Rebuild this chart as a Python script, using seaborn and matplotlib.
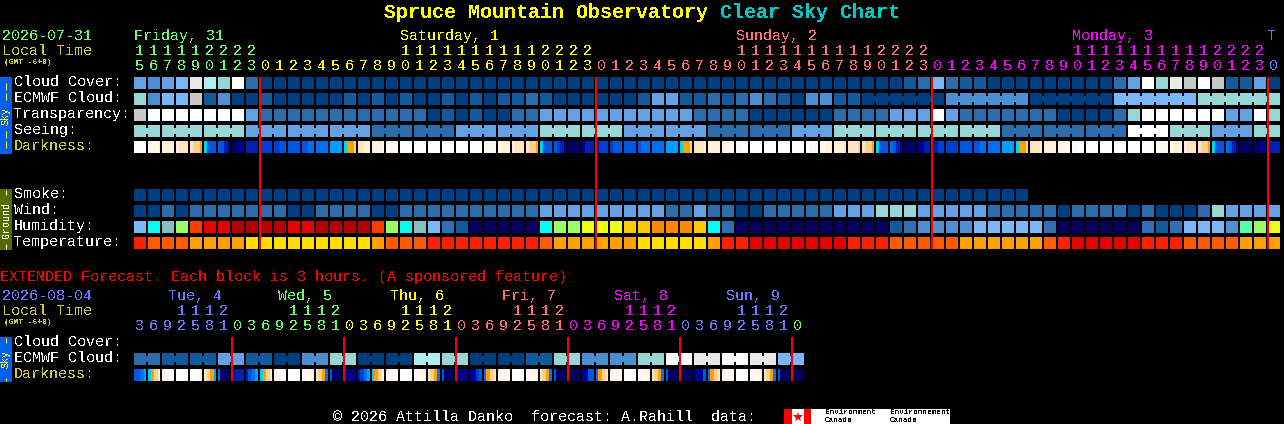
import matplotlib
matplotlib.use("Agg")
import matplotlib.pyplot as plt
import numpy as np
import seaborn as sns
from matplotlib.colors import ListedColormap
from matplotlib.patches import Rectangle

WIDTH, HEIGHT = 1284, 424
DPI = 100
PX = 72 / DPI
RULE = 1.99 * PX  # just under 2px so the lines snap to whole pixels
FONT = "Liberation Mono"

# palettes, darkest sky to brightest sky
SKY_COLORS = ["#003f7f", "#135a9c", "#2c6cab", "#4c8ed0", "#63a1e3", "#79b6f7",
              "#96d6d4", "#adeeee", "#c8c8c8", "#e8e8e8", "#ffffff"]
HUMIDITY_COLORS = ["#08005f", "#0f5ba0", "#2f6fb5", "#4f8fd0", "#7ab8f8", "#87bfc0", "#00fff0",
                   "#55ffaa", "#99ff66", "#ebff14", "#ffc800", "#ff8800", "#ff3c00", "#e60000", "#b40000"]
TEMPERATURE_COLORS = ["#e60000", "#ff2000", "#ff5a00", "#ff9f00", "#ffdd00"]
DARKNESS_COLORS = ["#ffffff", "#fff8f0", "#fff0dc", "#ffe4c0", "#ffd090", "#ffa000", "#00d0f0",
                   "#00a0ff", "#0070f0", "#0058e0", "#0040d0", "#0020b0", "#000090", "#000060"]

CLOUD_COVER = [4, 3, 4, 5, 9, 7, 6, 10, 2, 0, 0, 0, 0, 0, 0, 0, 0, 0, 0, 0, 0,
               0, 0, 0, 0, 0, 0, 0, 0, 0, 0, 0, 0, 0, 0, 0, 0, 0, 0, 0, 0,
               0, 0, 0, 0, 0, 0, 0, 0, 0, 0, 0, 0, 0, 0, 1, 2, 5, 2, 1, 1,
               0, 0, 0, 0, 0, 0, 0, 0, 0, 2, 4, 10, 6, 9, 8, 10, 8, 1, 1, 4, 0]
ECMWF_CLOUD = [6, 3, 5, 5, 8, 1, 3, 0, 0, 1, 0, 0, 0, 0, 0, 1, 0, 1, 0, 1, 0,
               0, 1, 0, 1, 0, 1, 1, 2, 1, 0, 0, 0, 0, 0, 0, 1, 4, 4, 1, 1,
               2, 1, 2, 3, 2, 1, 0, 3, 3, 1, 1, 0, 0, 0, 0, 0, 0, 3, 3, 3,
               3, 3, 3, 0, 0, 0, 0, 0, 0, 5, 5, 5, 5, 5, 5, 6, 6, 6, 6, 6, 6]
ECMWF_SPANS = [1] * 52 + [6] * 5
TRANSPARENCY = [8, 10, 10, 10, 10, 10, 10, 10, 4, 2, 2, 2, 2, 2, 2, 2, 2, 2, 2, 2, 2,
                0, 1, 0, 1, 0, 0, 2, 2, 4, 4, 4, 4, 4, 4, 4, 4, 4, 4, 4, 2,
                2, 2, 2, 0, 0, 0, 0, 0, 0, 2, 2, 2, 2, 4, 4, 4, 10, 4, 2, 2,
                2, 2, 2, 2, 2, 0, 0, 0, 0, 2, 6, 10, 10, 10, 10, 10, 10, 4, 4, 10, 6]
SEEING = [6, 6, 6, 6, 6, 6, 6, 6, 4, 4, 4, 4, 4, 4, 4, 4, 4, 2, 2, 2, 2,
          2, 2, 4, 4, 4, 4, 4, 4, 6, 6, 6, 6, 6, 6, 4, 4, 4, 4, 4, 4,
          2, 2, 2, 2, 2, 2, 4, 4, 4, 6, 6, 6, 6, 6, 6, 6, 6, 6, 6, 6,
          6, 2, 2, 2, 2, 2, 2, 2, 2, 2, 10, 10, 10, 6, 6, 6, 4, 4, 4, 6, 6]
SEEING_SPANS = [2] + [3] * 26 + [2]
DARKNESS = [
    (0, 0, 0, 0), (1, 1, 1, 2), (2, 2, 2, 2), (2, 3, 3, 3), (3, 4, 4, 5), (6, 9, 9, 9),
    (9, 9, 11, 12), (13, 13, 12, 12), (11, 11, 11, 11), (10, 10, 10, 10), (10, 10, 9, 9),
    (9, 9, 9, 9), (9, 9, 8, 8), (8, 8, 8, 8), (7, 7, 7, 7), (6, 5, 5, 4), (3, 3, 2, 2),
    (2, 2, 2, 1), (1, 1, 1, 1), (0, 0, 0, 0), (0, 0, 0, 0), (0, 0, 0, 0), (0, 0, 0, 0),
    (0, 0, 0, 0), (0, 0, 0, 0), (1, 1, 1, 1), (1, 2, 2, 2), (2, 3, 3, 3), (3, 4, 4, 5),
    (6, 9, 9, 9), (9, 10, 11, 12), (13, 13, 13, 13), (12, 11, 11, 11), (11, 10, 10, 10),
    (10, 9, 9, 9), (9, 9, 9, 9), (9, 8, 8, 8), (8, 8, 8, 8), (7, 7, 7, 7), (6, 5, 5, 4),
    (3, 3, 3, 2), (2, 2, 2, 2), (2, 1, 1, 1), (1, 1, 0, 0), (0, 0, 0, 0), (0, 0, 0, 0),
    (0, 0, 0, 0), (0, 0, 0, 0), (0, 1, 1, 1), (1, 1, 2, 2), (2, 2, 2, 3), (3, 3, 3, 4),
    (3, 4, 4, 5), (6, 9, 9, 9), (8, 9, 11, 12), (13, 13, 13, 13), (12, 12, 11, 11),
    (11, 11, 10, 10), (10, 10, 10, 10), (9, 9, 9, 9), (9, 9, 8, 8), (8, 8, 8, 8),
    (7, 7, 7, 7), (6, 5, 5, 4), (3, 3, 3, 2), (2, 2, 2, 2), (2, 1, 1, 1), (1, 1, 0, 0),
    (0, 0, 0, 0), (0, 0, 0, 0), (0, 0, 0, 0), (0, 0, 0, 0), (0, 0, 0, 0), (0, 1, 1, 1),
    (1, 2, 2, 2), (2, 3, 3, 3), (3, 4, 4, 5), (6, 9, 9, 9), (8, 9, 11, 12),
    (13, 13, 13, 13), (13, 13, 12, 12), (11, 11, 11, 11),
]
SMOKE = [0] * 64 + [np.nan] * 18
WIND = [0, 0, 2, 0, 2, 2, 2, 2, 2, 2, 2, 0, 0, 2, 2, 2, 2, 0, 0, 2, 2,
        2, 2, 2, 2, 2, 2, 2, 2, 4, 4, 4, 4, 4, 4, 4, 4, 4, 2, 2, 4,
        2, 2, 0, 0, 2, 2, 2, 2, 2, 4, 4, 4, 6, 6, 6, 4, 4, 4, 4, 4,
        2, 2, 2, 2, 2, 0, 2, 2, 2, 2, 0, 2, 0, 0, 0, 2, 6, 4, 4, 4, 4]
HUMIDITY = [4, 6, 5, 8, 12, 13, 13, 14, 14, 14, 14, 13, 13, 14, 14, 14, 14, 12, 8, 6, 5,
            4, 2, 1, 0, 0, 0, 0, 0, 6, 8, 8, 9, 9, 9, 10, 10, 11, 11, 11, 10,
            6, 2, 0, 0, 0, 0, 0, 0, 0, 0, 0, 0, 0, 1, 2, 3, 3, 3, 3, 4,
            4, 4, 4, 4, 2, 0, 0, 0, 0, 0, 0, 2, 1, 2, 4, 4, 4, 3, 7, 8, 9]
TEMPERATURE = [1, 2, 2, 2, 3, 3, 3, 3, 4, 4, 4, 4, 4, 4, 4, 4, 4, 3, 2, 2, 2,
               1, 1, 1, 1, 1, 1, 1, 1, 2, 3, 3, 3, 3, 3, 3, 4, 4, 4, 4, 4,
               3, 1, 1, 0, 0, 0, 0, 0, 0, 0, 1, 1, 1, 2, 2, 2, 2, 2, 3, 3,
               3, 3, 3, 3, 2, 1, 0, 0, 0, 0, 0, 1, 1, 1, 2, 2, 2, 2, 3, 3, 3]

EXT_ECMWF = [2, 2, 1, 1, 1, 1, 4, 4, 1, 1, 0, 0, 3, 3, 6, 6, 0, 0, 0, 0, 7, 7, 6, 6,
             0, 0, 0, 0, 1, 1, 6, 6, 3, 3, 3, 3, 6, 6, 10, 10, 9, 9, 10, 10, 9, 9, 5, 5]
EXT_ECMWF_SPANS = [2] * 24
EXT_DARKNESS = [
    (9, 9, 8, 7), (6, 5, 4, 2), (2, 1, 0, 0), (0, 0, 0, 0), (0, 0, 1, 2), (3, 4, 5, 7),
    (8, 13, 13, 13), (12, 11, 11, 11), (11, 9, 8, 7), (6, 5, 4, 2), (2, 1, 0, 0), (0, 0, 0, 0),
    (0, 1, 1, 2), (3, 4, 5, 8), (9, 13, 13, 13), (13, 12, 12, 12), (11, 10, 8, 7), (6, 5, 4, 2),
    (2, 1, 0, 0), (0, 0, 0, 0), (0, 1, 1, 2), (3, 4, 5, 8), (9, 13, 13, 13), (13, 12, 12, 12),
    (12, 12, 10, 9), (8, 5, 4, 3), (2, 1, 1, 0), (0, 0, 0, 0), (0, 1, 1, 2), (3, 4, 5, 8),
    (9, 13, 13, 13), (13, 13, 13, 13), (12, 12, 9, 9), (8, 5, 4, 3), (2, 1, 1, 0), (0, 0, 0, 0),
    (0, 1, 1, 2), (3, 4, 5, 8), (9, 13, 13, 13), (13, 13, 13, 13), (13, 12, 12, 9), (8, 5, 4, 3),
    (2, 1, 1, 0), (0, 0, 0, 0), (0, 1, 1, 2), (3, 4, 5, 8), (9, 13, 13, 13), (13, 13, 13, 13),
]

GREEN, YELLOW, SALMON, MAGENTA, BLUE = "#66ff66", "#ffff00", "#ff7070", "#ff00ff", "#6e78ff"
HOUR_LABELS = [15, 16, 17, 18, 19, 20, 21, 22, 23] + list(range(24)) * 3 + [0]
HOUR_SPANS = [(9, GREEN), (24, YELLOW), (24, SALMON), (24, MAGENTA), (1, BLUE)]
DAY_LABELS = [("Friday, 31", 134, GREEN), ("Saturday, 1", 400, YELLOW), ("Sunday, 2", 736, SALMON),
              ("Monday, 3", 1072, MAGENTA), ("T", 1268, BLUE)]
EXT_HOUR_LABELS = [3, 6, 9, 12, 15, 18, 21] + [0, 3, 6, 9, 12, 15, 18, 21] * 5 + [0]
EXT_HOUR_SPANS = [(7, BLUE), (8, GREEN), (8, YELLOW), (8, SALMON), (8, MAGENTA), (8, BLUE), (1, GREEN)]
EXT_DAY_LABELS = [("Tue, 4", 168, BLUE), ("Wed, 5", 278, GREEN), ("Thu, 6", 390, YELLOW),
                  ("Fri, 7", 502, SALMON), ("Sat, 8", 614, MAGENTA), ("Sun, 9", 726, BLUE)]
MIDNIGHT_COLS = [9, 33, 57, 81]
EXT_MIDNIGHT_COLS = [7, 15, 23, 31, 39, 47]

sns.set_theme(style="dark")
plt.rcParams["font.family"] = [FONT, "DejaVu Sans Mono"]
plt.rcParams["text.antialiased"] = False

fig = plt.figure(figsize=(WIDTH / DPI, HEIGHT / DPI), dpi=DPI, facecolor="black")


def draw_row(values, top, colors, samples=1, spans=None):
    """One row of 12px blocks, 14px apart, from a heatmap with the gaps cut in black."""
    values = np.asarray(values, dtype=float).reshape(1, -1)
    n_cols = values.shape[1] // samples
    ax = fig.add_axes([133 / WIDTH, 1 - (top + 12) / HEIGHT, 14 * n_cols / WIDTH, 12 / HEIGHT])
    sns.heatmap(values, cmap=ListedColormap(colors), vmin=-0.5, vmax=len(colors) - 0.5,
                cbar=False, xticklabels=False, yticklabels=False, ax=ax)
    ax.axis("off")

    linked = set()
    if spans:
        edge = 0
        for span in spans:
            linked.update(range(edge + 1, edge + span))
            edge += span
    for col in range(n_cols + 1):
        x = col * samples
        if col in linked:
            # neighbours in one forecast block stay joined through the middle
            ax.vlines(x, 0, 0.25, color="black", lw=RULE)
            ax.vlines(x, 0.75, 1, color="black", lw=RULE)
        else:
            ax.vlines(x, 0, 1, color="black", lw=RULE)


draw_row(CLOUD_COVER, 77, SKY_COLORS)
draw_row(ECMWF_CLOUD, 93, SKY_COLORS, spans=ECMWF_SPANS)
draw_row(TRANSPARENCY, 109, SKY_COLORS)
draw_row(SEEING, 125, SKY_COLORS, spans=SEEING_SPANS)
draw_row(np.ravel(DARKNESS), 141, DARKNESS_COLORS, samples=4)
draw_row(SMOKE, 189, SKY_COLORS)
draw_row(WIND, 205, SKY_COLORS)
draw_row(HUMIDITY, 221, HUMIDITY_COLORS)
draw_row(TEMPERATURE, 237, TEMPERATURE_COLORS)
draw_row(EXT_ECMWF, 353, SKY_COLORS, spans=EXT_ECMWF_SPANS)
draw_row(np.ravel(EXT_DARKNESS), 369, DARKNESS_COLORS, samples=4)

# everything else sits on a full-figure layer in pixel coordinates
canvas = fig.add_axes([0, 0, 1, 1])
canvas.set_xlim(0, WIDTH)
canvas.set_ylim(HEIGHT, 0)
canvas.axis("off")


def label(x, y, text, color="white", size=15, **kwargs):
    kwargs.setdefault("va", "center")
    canvas.text(x, y + 1, text, color=color, fontsize=size * PX, **kwargs)


def hour_header(hours, spans, y_tens, y_ones):
    colors = [color for count, color in spans for _ in range(count)]
    for col, (hour, color) in enumerate(zip(hours, colors)):
        x = 139.5 + 14 * col
        if hour >= 10:
            label(x, y_tens, str(hour // 10), color, ha="center")
        label(x, y_ones, str(hour % 10), color, ha="center")


def side_bar(top, bottom, color, text, text_color, text_y, dashes):
    canvas.add_patch(Rectangle((0, top), 12, bottom - top, color=color, lw=0))
    label(6, text_y, text, text_color, size=10, rotation=90, ha="center")
    for start, stop in dashes:
        canvas.vlines(6, start, stop, color=text_color, lw=PX)


label(384, 11, "Spruce Mountain Observatory", "#ffff00", size=20, fontweight="bold")
label(708, 11, " Clear Sky Chart", "#00c8c8", size=20, fontweight="bold")

label(2, 35, "2026-07-31", GREEN)
label(2, 50, "Local Time", "#cccc33")
label(4, 62, "(GMT -6+0)", "#cccc33", size=8, fontweight="bold")
for text, x, color in DAY_LABELS:
    label(x, 35, text, color)
hour_header(HOUR_LABELS, HOUR_SPANS, 50, 65)

for text, y, color in [("Cloud Cover:", 81, "white"), ("ECMWF Cloud:", 97, "white"),
                       ("Transparency:", 113, "white"), ("Seeing:", 129, "white"),
                       ("Darkness:", 145, "#cccc33"), ("Smoke:", 193, "white"),
                       ("Wind:", 209, "white"), ("Humidity:", 225, "white"),
                       ("Temperature:", 241, "white"), ("Cloud Cover:", 341, "white"),
                       ("ECMWF Cloud:", 357, "white"), ("Darkness:", 373, "#cccc33")]:
    label(14, y, text, color)

side_bar(77, 154, "#0060f0", "Sky", "#ffff00", 115, [(83, 90), (93, 100), (131, 138), (141, 148)])
side_bar(189, 250, "#556b00", "Ground", "white", 219, [(190, 195), (244, 249)])
side_bar(337, 382, "#0060f0", "Sky", "#ffff00", 358, [(338, 343), (378, 381)])

label(0, 276, "EXTENDED Forecast. Each block is 3 hours. (A sponsored feature)", "#ff0000")
label(2, 295, "2026-08-04", BLUE)
label(2, 310, "Local Time", "#cccc33")
label(4, 322, "(GMT -6+0)", "#cccc33", size=8, fontweight="bold")
for text, x, color in EXT_DAY_LABELS:
    label(x, 295, text, color)
hour_header(EXT_HOUR_LABELS, EXT_HOUR_SPANS, 310, 325)

canvas.vlines([134 + 14 * col for col in MIDNIGHT_COLS], 77, 249, color="#ff0000", lw=RULE)
canvas.vlines([134 + 14 * col for col in EXT_MIDNIGHT_COLS], 337, 381, color="#ff0000", lw=RULE)

label(333, 416, "© 2026 Attilla Danko  forecast: A.Rahill  data:", "white")
canvas.add_patch(Rectangle((784, 409), 166, 15, color="white", lw=0))
canvas.add_patch(Rectangle((784, 409), 8, 15, color="#ff0000", lw=0))
canvas.add_patch(Rectangle((804, 409), 7, 15, color="#ff0000", lw=0))
canvas.plot([798], [416.5], marker="*", color="#ff0000", ms=11 * PX, mew=0)
for x, first in [(825, "Environment"), (890, "Environnement")]:
    label(x, 412, first, "black", size=7.6)
    label(x, 419, "Canada", "black", size=7.6)

fig.savefig("out.png", dpi=DPI, facecolor="black")
